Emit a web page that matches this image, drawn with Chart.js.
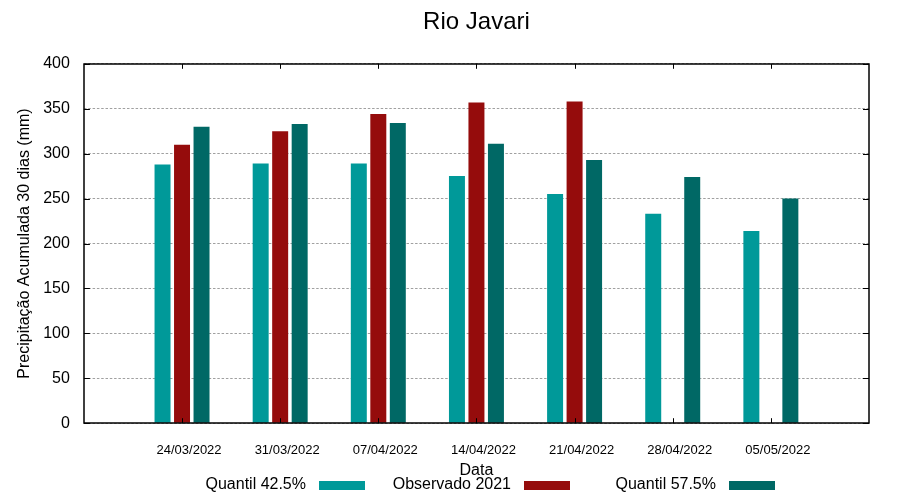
<!DOCTYPE html>
<html>
<head>
<meta charset="utf-8">
<script src="https://cdn.jsdelivr.net/npm/chart.js@4"></script>
<style>
  body { margin: 0; background: #fff; }
  #wrap { position: relative; width: 900px; height: 500px; font-family: "Liberation Sans", Arial, sans-serif; }
  .leg { position: absolute; top: 474.5px; height: 18px; display: flex; align-items: flex-start; font-size: 16px; line-height: 18px; color: #000; }
  .leg span.box { display: inline-block; width: 46px; height: 9px; margin-left: 13px; margin-top: 6.5px; }
</style>
</head>
<body>
<div id="wrap">
  <canvas id="chuvaChart" width="900" height="500"></canvas>
  <div id="legenda"></div>
</div>
<script>
// Dados
const datas = ['24/03/2022', '31/03/2022', '07/04/2022', '14/04/2022', '21/04/2022', '28/04/2022', '05/05/2022'];
const quantil425 = [288, 289, 289, 275, 255, 233, 214];
const observado2021 = [310, 325, 344, 357, 358, null, null];
const quantil575 = [330, 333, 334, 311, 293, 274, 250];
const yTicks = [0, 50, 100, 150, 200, 250, 300, 350, 400];

const series = [
    { label: 'Quantil 42.5%', data: quantil425, cor: '#009999' },
    { label: 'Observado 2021', data: observado2021, cor: '#950c0c' },
    { label: 'Quantil 57.5%', data: quantil575, cor: '#006865' }
];

// uma categoria vazia em cada ponta, como no gnuplot
const rotulos = [''].concat(datas, ['']);

Chart.defaults.font.family = '"Liberation Sans", Arial, sans-serif';
Chart.defaults.color = '#000';

// moldura + marcas de escala para dentro
const moldura = {
    id: 'moldura',
    afterDatasetsDraw(chart) {
        const { ctx, chartArea: a, scales } = chart;
        ctx.save();
        ctx.strokeStyle = '#000';
        ctx.lineWidth = 1;
        ctx.beginPath();
        yTicks.forEach(v => {
            const y = Math.round(scales.y.getPixelForValue(v)) + 0.5;
            ctx.moveTo(a.left, y); ctx.lineTo(a.left + 6, y);
            ctx.moveTo(a.right, y); ctx.lineTo(a.right - 6, y);
        });
        datas.forEach((d, i) => {
            const x = Math.round(scales.x.getPixelForValue(i + 1)) + 0.5;
            ctx.moveTo(x, a.bottom); ctx.lineTo(x, a.bottom - 5);
            ctx.moveTo(x, a.top); ctx.lineTo(x, a.top + 5);
        });
        ctx.stroke();
        ctx.lineWidth = 1.5;
        ctx.strokeRect(Math.round(a.left), Math.round(a.top), Math.round(a.right - a.left), Math.round(a.bottom - a.top));
        ctx.restore();
    }
};

const ctx = document.getElementById('chuvaChart').getContext('2d');
const chuvaChart = new Chart(ctx, {
    type: 'bar',
    data: {
        labels: rotulos,
        datasets: series.map(s => ({
            label: s.label,
            data: [null].concat(s.data, [null]),
            backgroundColor: s.cor,
            borderWidth: 0,
            categoryPercentage: 0.596,
            barPercentage: 0.82
        }))
    },
    options: {
        responsive: false,
        animation: false,
        layout: { padding: { top: 8, left: 5, right: 31, bottom: 20 } },
        plugins: {
            legend: { display: false },
            tooltip: { enabled: false },
            title: {
                display: true,
                text: 'Rio Javari',
                fullSize: false,
                font: { size: 24, weight: 'normal' },
                padding: { top: 0, bottom: 27 }
            }
        },
        scales: {
            x: {
                offset: false,
                grid: { display: true, drawOnChartArea: false, drawTicks: true, tickLength: 16, color: 'rgba(0,0,0,0)' },
                border: { display: false },
                ticks: { autoSkip: false, maxRotation: 0, padding: 3, labelOffset: 7, font: { size: 13 } },
                title: { display: true, text: 'Data', font: { size: 16 }, padding: { top: 0, bottom: 0 } }
            },
            y: {
                min: 0,
                max: 400,
                afterBuildTicks: axis => { axis.ticks = yTicks.map(v => ({ value: v })); },
                grid: { color: '#a0a0a0', lineWidth: 1, drawTicks: false },
                border: { display: false, dash: [2.5, 1.8] },
                ticks: { padding: 14, font: { size: 16 } },
                title: { display: true, text: 'Precipitação Acumulada 30 dias (mm)', font: { size: 16 }, padding: { top: 10, bottom: -5 } }
            }
        }
    },
    plugins: [moldura]
});

// legenda no estilo gnuplot: texto à esquerda, amostra à direita
const legenda = document.getElementById('legenda');
series.forEach((s, i) => {
    const item = document.createElement('div');
    item.className = 'leg';
    item.style.right = (900 - (365 + 205 * i)) + 'px';
    item.innerHTML = '<span>' + s.label + '</span><span class="box" style="background:' + s.cor + '"></span>';
    legenda.appendChild(item);
});
</script>
</body>
</html>
